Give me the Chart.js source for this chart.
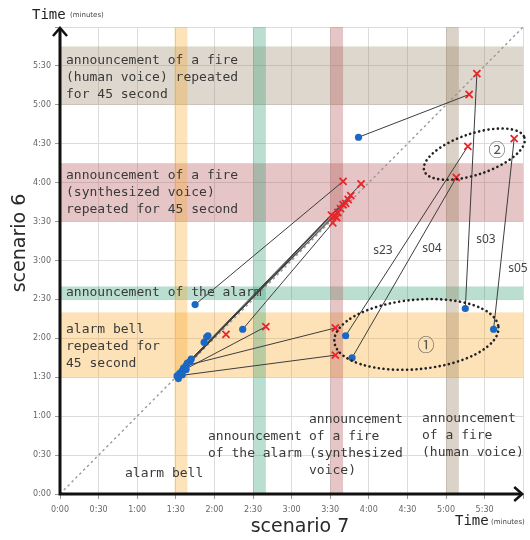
<!DOCTYPE html>
<html>
<head>
<meta charset="utf-8">
<script src="https://cdn.jsdelivr.net/npm/chart.js@4.4.1/dist/chart.umd.min.js"></script>
<style>
  html, body { margin: 0; padding: 0; background: #fff; }
  #wrap { width: 530px; height: 540px; }
</style>
</head>
<body>
<div id="wrap"><canvas id="chart" width="530" height="540"></canvas></div>
<script>
// times are in seconds; x = scenario 7, y = scenario 6
const tickLabels = ['0:00', '0:30', '1:00', '1:30', '2:00', '2:30', '3:00', '3:30', '4:00', '4:30', '5:00', '5:30'];

// stimulus bands: alarm bell, announcement of the alarm, fire (synthesized), fire (human)
const bandStart7 = [89, 150, 210, 300];
const bandEnd7   = [99, 160, 220, 310];
const bandStart6 = [90, 150, 210, 300];
const bandEnd6   = [140, 160, 255, 345];

// blue dots
const blue7 = [105, 142, 114, 115, 112, 91, 93, 95, 96, 98, 99, 101, 102, 95, 98, 92, 222, 227, 315, 337, 232];
const blue6 = [146, 127, 121, 122, 117, 91, 93, 95, 97, 99, 101, 102, 104, 92, 96, 89, 122, 105, 143, 127, 275];

// red crosses
const red7 = [220, 234, 160, 129, 214, 214, 317, 308, 324, 318, 353, 212, 214, 216, 218, 220, 222, 224, 226, 211, 215];
const red6 = [241, 239, 129, 123, 128, 107, 268, 244, 324, 308, 274, 209, 214, 217, 220, 223, 224, 227, 230, 215, 213];

// lines: [blue index, red index]
const links = [[0, 0], [1, 11], [12, 1], [10, 13], [8, 16], [6, 18], [11, 19], [7, 2], [9, 4], [5, 5],
               [16, 6], [17, 7], [18, 8], [19, 10], [20, 9]];

const pairLabels = ['s23', 's04', 's03', 's05'];

const toPts = (xs, ys) => xs.map((v, i) => ({ x: v, y: ys[i] }));
const linkPts = [];
links.forEach(([b, r]) => {
  linkPts.push({ x: blue7[b], y: blue6[b] });
  linkPts.push({ x: red7[r], y: red6[r] });
  linkPts.push({ x: red7[r], y: null });
});

const hBandColors = ['rgba(249,161,26,0.31)', 'rgba(41,155,112,0.32)', 'rgba(178,84,84,0.34)', 'rgba(149,126,92,0.31)'];
const vBandColors = ['rgba(249,161,26,0.30)', 'rgba(41,155,112,0.32)', 'rgba(178,84,84,0.34)', 'rgba(149,126,92,0.34)'];

const MONO = '"DejaVu Sans Mono", monospace';

const decor = {
  id: 'decor',
  beforeDatasetsDraw(chart) {
    const { ctx, chartArea: a, scales: { x, y } } = chart;
    ctx.save();
    ctx.beginPath();
    ctx.rect(a.left, a.top, a.right - a.left, a.bottom - a.top);
    ctx.clip();
    for (let i = 0; i < 4; i++) {
      const y1 = y.getPixelForValue(bandEnd6[i]), y2 = y.getPixelForValue(bandStart6[i]);
      ctx.fillStyle = hBandColors[i];
      ctx.fillRect(a.left, y1, a.right - a.left, y2 - y1);
    }
    for (let i = 0; i < 4; i++) {
      const x1 = x.getPixelForValue(bandStart7[i]), x2 = x.getPixelForValue(bandEnd7[i]);
      ctx.fillStyle = vBandColors[i];
      ctx.fillRect(x1, a.top, x2 - x1, a.bottom - a.top);
    }
    ctx.restore();

    // band texts
    ctx.save();
    ctx.fillStyle = '#3a3a3a';
    ctx.font = '13px ' + MONO;
    ctx.textBaseline = 'middle';
    const put = (lines, px, py, lh) => lines.forEach((t, k) => ctx.fillText(t, px, py + k * lh));
    put(['announcement of a fire', '(human voice) repeated', 'for 45 second'], 66, 61, 17);
    put(['announcement of a fire', '(synthesized voice)', 'repeated for 45 second'], 66, 176, 17);
    put(['announcement of the alarm'], 66, 293, 17);
    put(['alarm bell', 'repeated for', '45 second'], 66, 330, 17);
    put(['alarm bell'], 125, 474, 17);
    put(['announcement', 'of the alarm'], 208, 437, 17);
    put(['announcement', 'of a fire', '(synthesized', 'voice)'], 309, 420, 17);
    put(['announcement', 'of a fire', '(human voice)'], 422, 419, 17);
    ctx.restore();
  },
  afterDatasetsDraw(chart) {
    const { ctx, chartArea: a, scales: { x, y } } = chart;
    const pps = (a.right - a.left) / 360;
    ctx.save();

    // dotted ellipses (center in seconds, radii in seconds)
    ctx.strokeStyle = '#222';
    ctx.lineWidth = 2.6;
    ctx.lineCap = 'round';
    ctx.setLineDash([0.1, 4.6]);
    [[277, 123, 64, 27, -0.09], [322, 262, 41, 16, -0.32]].forEach(([cx, cy, rx, ry, rot]) => {
      ctx.beginPath();
      ctx.ellipse(x.getPixelForValue(cx), y.getPixelForValue(cy), rx * pps, ry * pps, rot, 0, Math.PI * 2);
      ctx.stroke();
    });
    ctx.setLineDash([]);

    // pair labels
    ctx.fillStyle = '#444';
    ctx.font = '12px "Noto Sans", sans-serif';
    ctx.textAlign = 'center';
    ctx.textBaseline = 'middle';
    [[383, 251], [432, 249], [486, 240], [518, 269]].forEach(([px, py], i) => ctx.fillText(pairLabels[i], px, py));

    ctx.font = '17px "Noto Sans CJK JP", sans-serif';
    ctx.fillStyle = '#555';
    ctx.fillText('\u2460', 426, 345);
    ctx.fillText('\u2461', 497, 150);

    // axes with arrows
    ctx.strokeStyle = '#111';
    ctx.lineWidth = 3;
    ctx.lineCap = 'butt';
    ctx.beginPath();
    ctx.moveTo(a.left, a.bottom + 1.5);
    ctx.lineTo(a.left, a.top + 2);
    ctx.moveTo(a.left - 1.5, a.bottom);
    ctx.lineTo(a.right - 2, a.bottom);
    ctx.stroke();
    ctx.lineWidth = 2.5;
    ctx.lineJoin = 'miter';
    ctx.beginPath();
    ctx.moveTo(a.left - 7, a.top + 9);
    ctx.lineTo(a.left, a.top + 1);
    ctx.lineTo(a.left + 7, a.top + 9);
    ctx.moveTo(a.right - 9, a.bottom - 7);
    ctx.lineTo(a.right - 1, a.bottom);
    ctx.lineTo(a.right - 9, a.bottom + 7);
    ctx.stroke();

    // titles
    ctx.fillStyle = '#222';
    ctx.textAlign = 'left';
    ctx.font = '14px ' + MONO;
    ctx.fillText('Time', 32, 15);
    ctx.fillText('Time', 455, 521);
    ctx.font = '7px "DejaVu Sans", sans-serif';
    ctx.fillStyle = '#444';
    ctx.fillText('(minutes)', 70, 15);
    ctx.fillText('(minutes)', 491, 522);

    ctx.fillStyle = '#2a2a2a';
    ctx.font = '19px "DejaVu Sans", sans-serif';
    ctx.textAlign = 'center';
    ctx.fillText('scenario 7', 300, 527);
    ctx.translate(20, 243);
    ctx.rotate(-Math.PI / 2);
    ctx.fillText('scenario 6', 0, 0);
    ctx.restore();
  }
};

const tickFmt = (v, i) => tickLabels[i] ?? '';

new Chart(document.getElementById('chart'), {
  type: 'scatter',
  data: {
    datasets: [
      {
        label: 'red',
        data: toPts(red7, red6),
        pointStyle: 'crossRot',
        pointRadius: 5,
        borderColor: '#e8262c',
        borderWidth: 1.8,
        order: 0
      },
      {
        label: 'blue',
        data: toPts(blue7, blue6),
        pointStyle: 'circle',
        pointRadius: 3.6,
        backgroundColor: '#1a67c4',
        borderColor: '#1a67c4',
        borderWidth: 0,
        order: 1
      },
      {
        label: 'links',
        data: linkPts,
        showLine: true,
        spanGaps: false,
        pointRadius: 0,
        borderColor: '#3c3c3c',
        borderWidth: 1,
        order: 2
      },
      {
        label: 'diagonal',
        data: [{ x: 0, y: 0 }, { x: 360, y: 360 }],
        showLine: true,
        pointRadius: 0,
        borderColor: '#999',
        borderWidth: 1.4,
        borderDash: [2.5, 3],
        order: 3
      }
    ]
  },
  options: {
    responsive: false,
    animation: false,
    devicePixelRatio: 1,
    layout: { padding: { left: 0, top: 27, right: 5, bottom: 0 } },
    plugins: { legend: { display: false }, tooltip: { enabled: false } },
    scales: {
      x: {
        type: 'linear', min: 0, max: 360,
        afterFit: s => { s.height = 46; },
        grid: { color: '#dcdcdc', tickLength: 5, tickColor: '#999' },
        border: { display: false },
        ticks: { stepSize: 30, autoSkip: false, maxRotation: 0, padding: 6, color: '#666',
                 font: { family: '"DejaVu Sans", sans-serif', size: 8 }, callback: tickFmt }
      },
      y: {
        type: 'linear', min: 0, max: 360,
        afterFit: s => { s.width = 60; },
        grid: { color: '#dcdcdc', tickLength: 5, tickColor: '#999' },
        border: { display: false },
        ticks: { stepSize: 30, autoSkip: false, padding: 4, color: '#666',
                 font: { family: '"DejaVu Sans", sans-serif', size: 8 }, callback: tickFmt }
      }
    }
  },
  plugins: [decor]
});
</script>
</body>
</html>
